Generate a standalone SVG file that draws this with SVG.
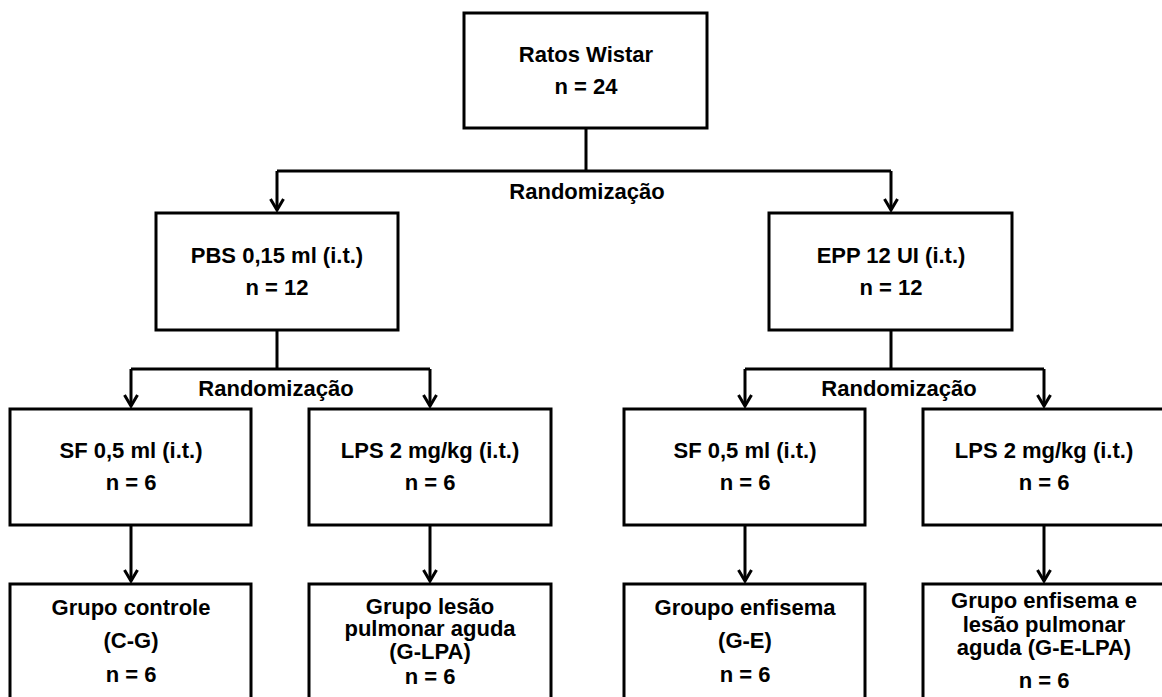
<svg xmlns="http://www.w3.org/2000/svg" width="1162" height="697" viewBox="0 0 1162 697">
<style>
.box{fill:#fff;stroke:#000;stroke-width:3}
.t{font-family:"Liberation Sans",Arial,sans-serif;font-weight:bold;font-size:22px;fill:#000;text-anchor:middle}
.c{fill:none;stroke:#000;stroke-width:3}
</style>
<defs>
<marker id="ah" markerUnits="userSpaceOnUse" markerWidth="20" markerHeight="20" viewBox="-2 -10 16 20" refX="11" refY="0" orient="auto" overflow="visible">
<path d="M0,-6.5 L11,0 L0,6.5" fill="none" stroke="#000" stroke-width="3"/>
</marker>
</defs>
<rect width="1162" height="697" fill="#fff"/>
<g id="connectors">
<path class="c" d="M586,128 V171 M277,171 H891"/>
<path class="c" d="M277,171 V210" marker-end="url(#ah)"/>
<path class="c" d="M891,171 V210" marker-end="url(#ah)"/>
<path class="c" d="M277,330 V369 M131,369 H430"/>
<path class="c" d="M131,369 V406" marker-end="url(#ah)"/>
<path class="c" d="M430,369 V406" marker-end="url(#ah)"/>
<path class="c" d="M891,330 V369 M745,369 H1044"/>
<path class="c" d="M745,369 V406" marker-end="url(#ah)"/>
<path class="c" d="M1044,369 V406" marker-end="url(#ah)"/>
<path class="c" d="M131,525 V581" marker-end="url(#ah)"/>
<path class="c" d="M430,525 V581" marker-end="url(#ah)"/>
<path class="c" d="M745,525 V581" marker-end="url(#ah)"/>
<path class="c" d="M1044,525 V581" marker-end="url(#ah)"/>
<text class="t" x="587" y="199">Randomização</text>
<text class="t" x="276" y="396">Randomização</text>
<text class="t" x="899" y="396">Randomização</text>
</g>
<g id="ratos">
<rect class="box" x="464" y="13" width="243" height="115"/>
<text class="t" x="586" y="62">Ratos Wistar</text>
<text class="t" x="586" y="94">n = 24</text>
</g>
<g id="pbs">
<rect class="box" x="156" y="213" width="242" height="117"/>
<text class="t" x="277" y="263">PBS 0,15 ml (i.t.)</text>
<text class="t" x="277" y="295">n = 12</text>
</g>
<g id="epp">
<rect class="box" x="769" y="213" width="243" height="117"/>
<text class="t" x="891" y="263">EPP 12 UI (i.t.)</text>
<text class="t" x="891" y="295">n = 12</text>
</g>
<g id="sf1">
<rect class="box" x="10" y="409" width="241" height="116"/>
<text class="t" x="131" y="458">SF 0,5 ml (i.t.)</text>
<text class="t" x="131" y="490">n = 6</text>
</g>
<g id="lps1">
<rect class="box" x="309" y="409" width="242" height="116"/>
<text class="t" x="430" y="458">LPS 2 mg/kg (i.t.)</text>
<text class="t" x="430" y="490">n = 6</text>
</g>
<g id="sf2">
<rect class="box" x="624" y="409" width="241" height="116"/>
<text class="t" x="745" y="458">SF 0,5 ml (i.t.)</text>
<text class="t" x="745" y="490">n = 6</text>
</g>
<g id="lps2">
<rect class="box" x="923" y="409" width="242" height="116"/>
<text class="t" x="1044" y="458">LPS 2 mg/kg (i.t.)</text>
<text class="t" x="1044" y="490">n = 6</text>
</g>
<g id="cg">
<rect class="box" x="10" y="584" width="241" height="130"/>
<text class="t" x="131" y="615">Grupo controle</text>
<text class="t" x="131" y="648">(C-G)</text>
<text class="t" x="131" y="682">n = 6</text>
</g>
<g id="glpa">
<rect class="box" x="309" y="584" width="242" height="130"/>
<text class="t" x="430" y="614">Grupo lesão</text>
<text class="t" x="430" y="636">pulmonar aguda</text>
<text class="t" x="430" y="659">(G-LPA)</text>
<text class="t" x="430" y="684">n = 6</text>
</g>
<g id="ge">
<rect class="box" x="624" y="584" width="241" height="130"/>
<text class="t" x="745" y="615">Groupo enfisema</text>
<text class="t" x="745" y="648">(G-E)</text>
<text class="t" x="745" y="682">n = 6</text>
</g>
<g id="gelpa">
<rect class="box" x="923" y="584" width="242" height="130"/>
<text class="t" x="1044" y="608">Grupo enfisema e</text>
<text class="t" x="1044" y="632">lesão pulmonar</text>
<text class="t" x="1044" y="655">aguda (G-E-LPA)</text>
<text class="t" x="1044" y="688">n = 6</text>
</g>
</svg>
